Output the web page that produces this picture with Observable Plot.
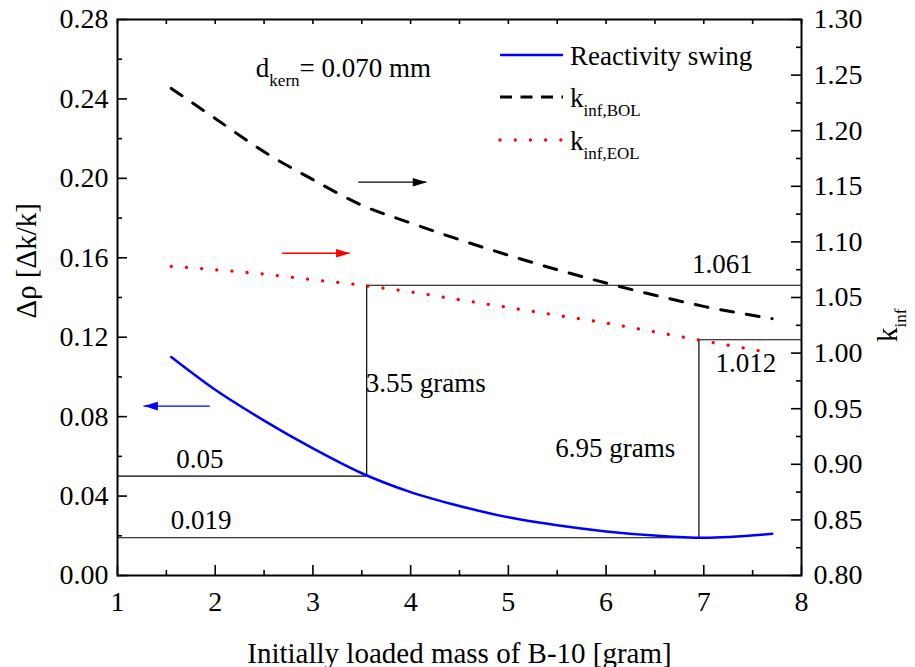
<!DOCTYPE html>
<html><head><meta charset="utf-8">
<script src="https://cdn.jsdelivr.net/npm/d3@7"></script>
<script src="https://cdn.jsdelivr.net/npm/@observablehq/plot@0.6"></script>
<style>body{margin:0;background:#fff} svg{display:block}</style>
</head><body><div id="chart"></div>
<script>
// ---- data ----
const massB10 = [1.55, 2, 2.5, 3, 3.5, 4, 4.5, 5, 5.5, 6, 6.5, 7, 7.7];
const reactivitySwing = [0.110, 0.0935, 0.078, 0.064, 0.0515, 0.042, 0.035, 0.0293, 0.0253, 0.0222, 0.0201, 0.0190, 0.0210];
const kinfBOL = [1.238, 1.211, 1.181, 1.156, 1.133, 1.117, 1.102, 1.088, 1.075, 1.063, 1.052, 1.042, 1.031];
const kinfEOL = [1.078, 1.075, 1.071, 1.066, 1.061, 1.055, 1.048, 1.041, 1.034, 1.027, 1.019, 1.011, 1.000];

const xTicks = [1, 2, 3, 4, 5, 6, 7, 8];
const xMinorTicks = [1.5, 2.5, 3.5, 4.5, 5.5, 6.5, 7.5];
const rhoTicks = [0, 0.04, 0.08, 0.12, 0.16, 0.20, 0.24, 0.28];
const rhoMinorTicks = [0.02, 0.06, 0.10, 0.14, 0.18, 0.22, 0.26];
const kTicks = [0.80, 0.85, 0.90, 0.95, 1.00, 1.05, 1.10, 1.15, 1.20, 1.25, 1.30];
const kMinorTicks = [0.825, 0.875, 0.925, 0.975, 1.025, 1.075, 1.125, 1.175, 1.225, 1.275];

const markedMass = [3.55, 6.95];
const markedSwing = [0.05, 0.019];
const markedK = [1.061, 1.012];

const arrowFrom = [3.47, 2.69, 1.95];
const arrowTo = [4.165, 3.38, 1.27];
const arrowK = [1.1537, 1.0898, null];
const arrowRho = [null, null, 0.0853];
const arrowColors = ["#000000", "#ff0000", "#0000ff"];

// ---- scales ----
const rhoDomain = [0, 0.28], kDomain = [0.80, 1.30];
const toRho = k => (k - kDomain[0]) * (rhoDomain[1] - rhoDomain[0]) / (kDomain[1] - kDomain[0]);
const toK = r => kDomain[0] + r * (kDomain[1] - kDomain[0]) / (rhoDomain[1] - rhoDomain[0]);

const W = 915, H = 667, mL = 117, mR = 114, mT = 19, mB = 92;
const fw = W - mL - mR, fh = H - mT - mB;
const FONT = "'Liberation Serif', 'Times New Roman', Times, serif";

const swingData = massB10.map((m, i) => ({m, v: reactivitySwing[i]}));
const bolData = massB10.map((m, i) => ({m, v: toRho(kinfBOL[i])}));
const eolData = massB10.map((m, i) => ({m, v: toRho(kinfEOL[i])}));
const arrows = arrowFrom.map((x1, i) => ({x1, x2: arrowTo[i], y: arrowRho[i] != null ? arrowRho[i] : toRho(arrowK[i]), c: arrowColors[i], rot: arrowTo[i] > x1 ? 0 : 180}));

const arrowHead = {draw(ctx) { ctx.moveTo(0, 0); ctx.lineTo(-14, -4.3); ctx.lineTo(-14, 4.3); ctx.closePath(); }};

const notesMiddle = [
  {x: 7.19, y: toRho(markedK[0]) + 0.0062, t: String(markedK[0])},
  {x: 7.43, y: 0.1024, t: String(markedK[1])}
];
const notesStart = [
  {x: 3.54, y: 0.0922, t: markedMass[0] + " grams"},
  {x: 5.48, y: 0.0599, t: markedMass[1] + " grams"},
  {x: 1.60, y: 0.0542, t: String(markedSwing[0])},
  {x: 1.545, y: 0.0235, t: String(markedSwing[1])},
  {x: 2.416, y: 0.2508, t: "d_{kern}= 0.070 mm"}
];

const lineStyle = {stroke: "#000", strokeWidth: 1.2};
const plot = Plot.plot({
  width: W, height: H,
  marginLeft: mL, marginRight: mR, marginTop: mT, marginBottom: mB,
  x: {domain: [1, 8]},
  y: {domain: rhoDomain},
  style: {fontFamily: FONT, fontSize: "28px", color: "#000", background: "#fff"},
  marks: [
    // reference lines
    Plot.ruleY([markedSwing[0]], {y: d => d, x1: 1, x2: markedMass[0], ...lineStyle}),
    Plot.ruleX([markedMass[0]], {x: d => d, y1: markedSwing[0], y2: toRho(markedK[0]), ...lineStyle}),
    Plot.ruleY([toRho(markedK[0])], {y: d => d, x1: markedMass[0], x2: 8, ...lineStyle}),
    Plot.ruleY([markedSwing[1]], {y: d => d, x1: 1, x2: markedMass[1], ...lineStyle}),
    Plot.ruleX([markedMass[1]], {x: d => d, y1: markedSwing[1], y2: toRho(markedK[1]), ...lineStyle}),
    Plot.ruleY([toRho(markedK[1])], {y: d => d, x1: markedMass[1], x2: 8, ...lineStyle}),
    // curves
    Plot.line(bolData, {x: "m", y: "v", stroke: "#000", strokeWidth: 3, strokeDasharray: "13,13", curve: "monotone-x"}),
    Plot.line(eolData, {x: "m", y: "v", stroke: "#ff0000", strokeWidth: 3.3, strokeDasharray: "0.01,15.2", strokeLinecap: "round", curve: "monotone-x"}),
    Plot.line(swingData, {x: "m", y: "v", stroke: "#0000ff", strokeWidth: 2.5, curve: "monotone-x"}),
    // arrows
    Plot.ruleY(arrows, {y: "y", x1: "x1", x2: "x2", stroke: "c", strokeWidth: 1.3}),
    Plot.dot(arrows, {x: "x2", y: "y", symbol: arrowHead, fill: "c", stroke: null, rotate: "rot", r: 5}),
    // annotations
    Plot.text(notesMiddle, {x: "x", y: "y", text: "t", textAnchor: "middle", lineAnchor: "bottom", fontSize: 27}),
    Plot.text(notesStart, {x: "x", y: "y", text: "t", textAnchor: "start", lineAnchor: "bottom", fontSize: 27}),
    // frame and ticks
    Plot.frame({stroke: "#000", strokeWidth: 2}),
    Plot.tickY(rhoTicks, {y: d => d, insetRight: fw - 10, strokeWidth: 1.6}),
    Plot.tickY(rhoMinorTicks, {y: d => d, insetRight: fw - 5, strokeWidth: 1.6}),
    Plot.tickY(kTicks.map(toRho), {y: d => d, insetLeft: fw - 10, strokeWidth: 1.6}),
    Plot.tickY(kMinorTicks.map(toRho), {y: d => d, insetLeft: fw - 5, strokeWidth: 1.6}),
    Plot.tickX(xTicks, {x: d => d, insetTop: fh - 10, strokeWidth: 1.6}),
    Plot.tickX(xMinorTicks, {x: d => d, insetTop: fh - 5, strokeWidth: 1.6}),
    Plot.tickX(xTicks, {x: d => d, insetBottom: fh - 5, strokeWidth: 1.6}),
    Plot.tickX(xMinorTicks, {x: d => d, insetBottom: fh - 5, strokeWidth: 1.6}),
    // axes
    Plot.axisY(rhoTicks, {anchor: "left", tickSize: 0, tickPadding: 9, tickFormat: d3.format(".2f"), label: null, fontSize: 28}),
    Plot.axisY(kTicks.map(toRho), {anchor: "right", tickSize: 0, tickPadding: 12, tickFormat: r => d3.format(".2f")(toK(r)), label: null, fontSize: 28}),
    Plot.axisX(xTicks, {anchor: "bottom", tickSize: 0, tickPadding: 16, label: null, fontSize: 28}),
    // axis titles
    Plot.text(["Δρ [Δk/k]"], {frameAnchor: "left", dx: -91, dy: 21, rotate: -90, fontSize: 29}),
    Plot.text(["k_{inf}"], {frameAnchor: "right", dx: 86, dy: 11, rotate: -90, fontSize: 29}),
    Plot.text(["Initially loaded mass of B-10 [gram]"], {frameAnchor: "bottom", dy: 87, lineAnchor: "bottom", fontSize: 29})
  ]
});

// ---- legend ----
const svg = d3.select(plot);
const lg = svg.append("g").attr("font-family", FONT).attr("font-size", 27).attr("fill", "#000").attr("text-anchor", "start");
const legendItems = [
  {label: "Reactivity swing", stroke: "#0000ff", w: 2.5, dash: null, cap: "butt", y: 55},
  {label: "k_{inf,BOL}", stroke: "#000", w: 3, dash: "12,8.5", cap: "butt", y: 97},
  {label: "k_{inf,EOL}", stroke: "#ff0000", w: 3.3, dash: "0.01,15.2", cap: "round", y: 140}
];
for (const it of legendItems) {
  lg.append("line").attr("x1", 500).attr("x2", 563).attr("y1", it.y).attr("y2", it.y)
    .attr("stroke", it.stroke).attr("stroke-width", it.w).attr("stroke-dasharray", it.dash).attr("stroke-linecap", it.cap);
  lg.append("text").attr("x", 570).attr("y", it.y + 9.5).text(it.label);
}

// ---- subscripts ----
plot.querySelectorAll("text").forEach(el => {
  const s = el.textContent;
  const m = s.match(/^(.*?)_\{(.*?)\}(.*)$/);
  if (!m) return;
  el.textContent = "";
  el.appendChild(document.createTextNode(m[1]));
  const sub = document.createElementNS("http://www.w3.org/2000/svg", "tspan");
  sub.setAttribute("dy", "9"); sub.setAttribute("font-size", "17"); sub.textContent = m[2];
  el.appendChild(sub);
  if (m[3]) {
    const rest = document.createElementNS("http://www.w3.org/2000/svg", "tspan");
    rest.setAttribute("dy", "-9"); rest.textContent = m[3];
    el.appendChild(rest);
  }
});

document.getElementById("chart").appendChild(plot);
</script>
</body></html>
